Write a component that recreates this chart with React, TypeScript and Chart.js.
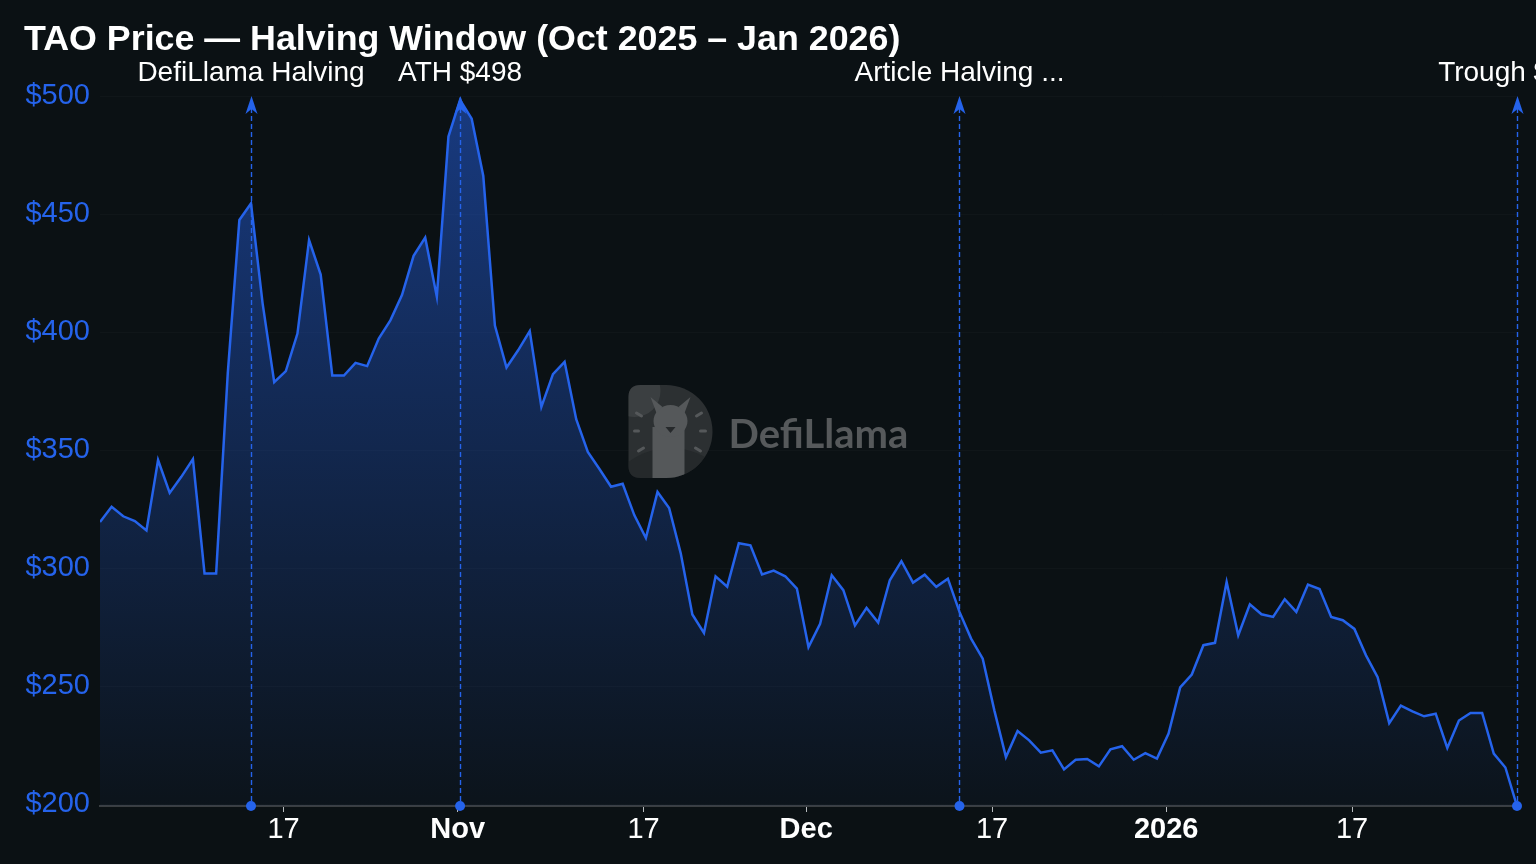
import React, { useEffect, useRef } from "react";
import { Chart, registerables } from "chart.js";

Chart.register(...registerables);

// ---- data (day index 0 = 2025-10-01, daily closes through 2026-01-31) ----
const PRICES: number[] = [
  319.6, 326.0, 322.0, 320.0, 316.0, 345.8, 331.9, 338.7, 346.2, 297.8,
  297.8, 382.5, 447.5, 454.5, 412.2, 378.8, 383.5, 399.4, 439.0, 424.4,
  381.6, 381.6, 387.0, 385.6, 397.3, 405.0, 415.7, 432.3, 440.0, 415.0,
  482.8, 498.3, 490.4, 466.1, 402.8, 385.0, 392.3, 400.4, 368.3, 382.2,
  387.4, 363.1, 349.3, 342.0, 334.5, 335.8, 322.5, 312.8, 332.3, 325.5,
  306.3, 280.4, 272.6, 296.6, 292.2, 310.6, 309.7, 297.4, 299.0, 296.6,
  291.4, 266.6, 276.5, 297.0, 290.7, 275.8, 283.2, 277.0, 294.9, 303.0,
  293.9, 297.3, 292.1, 295.6, 281.5, 270.2, 261.7, 239.8, 220.0, 231.1,
  227.1, 221.9, 222.9, 214.8, 218.9, 219.2, 216.1, 223.3, 224.6, 218.9,
  221.7, 219.4, 230.0, 249.5, 255.0, 267.4, 268.4, 294.2, 271.6, 284.7,
  280.5, 279.4, 286.9, 281.5, 293.1, 291.2, 279.4, 278.0, 274.3, 263.1,
  253.9, 234.4, 241.8, 239.4, 237.3, 238.4, 223.9, 235.5, 238.7, 238.7,
  221.5, 215.6, 199.3,
];

const TICK_DAYS: number[] = [16, 31, 47, 61, 77, 92, 108];
const TICK_LABELS: string[] = ["17", "Nov", "17", "Dec", "17", "2026", "17"];
const TICK_MAJOR: boolean[] = [false, true, false, true, false, true, false];
const TICK_SHIFT = -0.2; // timezone shift of day boundaries (days)
const Y_TICKS: number[] = [200, 250, 300, 350, 400, 450, 500];
const Y_MAX = 500;

const ANNOT_DAYS: number[] = [13, 31, 74, 122];
const ANNOT_LABELS: string[] = [
  "DefiLlama Halving",
  "ATH $498",
  "Article Halving ...",
  "Trough $199",
];

const TITLE = "TAO Price — Halving Window (Oct 2025 – Jan 2026)";

const BLUE = "#2563eb";
const BG = "#0b1114";
const FONT = '"Liberation Sans", Arial, sans-serif';

function drawWatermark(ctx: CanvasRenderingContext2D, left: number, top: number) {
  const h = 93;
  const w = 84;
  const r = h / 2;
  const cxD = left + w - r;
  const cyD = top + r;
  ctx.save();
  ctx.beginPath();
  ctx.moveTo(left + 12, top);
  ctx.lineTo(cxD, top);
  ctx.arc(cxD, cyD, r, -Math.PI / 2, Math.PI / 2);
  ctx.lineTo(left + 12, top + h);
  ctx.quadraticCurveTo(left, top + h, left, top + h - 12);
  ctx.lineTo(left, top + 12);
  ctx.quadraticCurveTo(left, top, left + 12, top);
  ctx.closePath();
  ctx.fillStyle = "rgba(48,51,53,0.92)";
  ctx.fill();
  ctx.clip();
  ctx.beginPath();
  ctx.arc(left + 6, top + 6, 26, 0, Math.PI * 2);
  ctx.fillStyle = "rgba(70,73,75,0.6)";
  ctx.fill();
  ctx.beginPath();
  ctx.arc(left + 42, top + h + 40, 70, 0, Math.PI * 2);
  ctx.fillStyle = "rgba(30,33,35,0.5)";
  ctx.fill();
  ctx.fillStyle = "#55585a";
  ctx.fillRect(left + 24, top + 42, 32, h - 42);
  ctx.beginPath();
  ctx.ellipse(left + 42, top + 36, 17, 16, 0, 0, Math.PI * 2);
  ctx.fill();
  ctx.beginPath();
  ctx.moveTo(left + 22, top + 12);
  ctx.lineTo(left + 34, top + 22);
  ctx.lineTo(left + 28, top + 28);
  ctx.closePath();
  ctx.fill();
  ctx.beginPath();
  ctx.moveTo(left + 62, top + 12);
  ctx.lineTo(left + 50, top + 22);
  ctx.lineTo(left + 56, top + 28);
  ctx.closePath();
  ctx.fill();
  ctx.fillStyle = "#26292b";
  ctx.beginPath();
  ctx.moveTo(left + 37, top + 42);
  ctx.lineTo(left + 47, top + 42);
  ctx.lineTo(left + 42, top + 48);
  ctx.closePath();
  ctx.fill();
  ctx.strokeStyle = "#55585a";
  ctx.lineWidth = 3;
  ctx.lineCap = "round";
  const rays: [number, number, number, number][] = [
    [8, 28, 13, 31], [6, 46, 10, 46], [10, 66, 15, 63],
    [68, 31, 73, 28], [72, 46, 77, 46], [67, 63, 72, 66],
  ];
  rays.forEach(([x1, y1, x2, y2]) => {
    ctx.beginPath();
    ctx.moveTo(left + x1, top + y1);
    ctx.lineTo(left + x2, top + y2);
    ctx.stroke();
  });
  ctx.restore();
  ctx.save();
  ctx.fillStyle = "#56595b";
  ctx.font = `bold 40px Lato, ${FONT}`;
  ctx.textAlign = "left";
  ctx.textBaseline = "middle";
  ctx.fillText("DefiLlama", left + 100, top + 50);
  ctx.restore();
}

const overlayPlugin = {
  id: "overlay",
  beforeDraw(chart: any) {
    const { ctx, width, height } = chart;
    ctx.save();
    ctx.fillStyle = BG;
    ctx.fillRect(0, 0, width, height);
    ctx.fillStyle = "#ffffff";
    ctx.font = `bold 35.8px ${FONT}`;
    ctx.textAlign = "left";
    ctx.textBaseline = "middle";
    ctx.fillText(TITLE, 24, 40);
    ctx.restore();
  },
  afterDatasetsDraw(chart: any) {
    const { ctx, chartArea, scales } = chart;
    const cx = (chartArea.left + chartArea.right) / 2;
    const cy = (chartArea.top + chartArea.bottom) / 2;
    drawWatermark(ctx, cx - 180, cy - 66);

    ANNOT_DAYS.forEach((d, i) => {
      const xr = scales.x.getPixelForValue(d);
      const x = Math.round(xr) + 0.5;
      ctx.save();
      ctx.strokeStyle = BLUE;
      ctx.fillStyle = BLUE;
      ctx.lineWidth = 1.4;
      ctx.setLineDash([5, 3]);
      ctx.beginPath();
      ctx.moveTo(x, chartArea.top + 12);
      ctx.lineTo(x, chartArea.bottom);
      ctx.stroke();
      ctx.setLineDash([]);
      ctx.beginPath();
      ctx.moveTo(x, chartArea.top);
      ctx.lineTo(x + 6, chartArea.top + 18);
      ctx.lineTo(x, chartArea.top + 13);
      ctx.lineTo(x - 6, chartArea.top + 18);
      ctx.closePath();
      ctx.fill();
      ctx.beginPath();
      ctx.arc(xr, chartArea.bottom, 5, 0, Math.PI * 2);
      ctx.fill();
      ctx.fillStyle = "#ffffff";
      ctx.font = `28px ${FONT}`;
      ctx.textAlign = "center";
      ctx.textBaseline = "middle";
      ctx.fillText(ANNOT_LABELS[i], xr, chartArea.top - 23);
      ctx.restore();
    });
  },
};

export default function App() {
  const canvasRef = useRef<HTMLCanvasElement | null>(null);

  useEffect(() => {
    if (!canvasRef.current) return;
    const data = PRICES.map((v, i) => ({ x: i, y: v }));
    const chart = new Chart(canvasRef.current, {
      type: "line",
      data: {
        datasets: [
          {
            label: "TAO",
            data,
            borderColor: BLUE,
            borderWidth: 2.5,
            pointRadius: 0,
            tension: 0,
            fill: "start",
            backgroundColor: (c: any) => {
              const ca = c.chart.chartArea;
              if (!ca) return "rgba(37,99,235,0.2)";
              const g = c.chart.ctx.createLinearGradient(0, ca.top, 0, ca.bottom);
              g.addColorStop(0, "rgba(37,99,235,0.5)");
              g.addColorStop(1, "rgba(37,99,235,0.03)");
              return g;
            },
          },
        ],
      },
      options: {
        animation: false,
        responsive: true,
        maintainAspectRatio: false,
        layout: { padding: { left: 24, right: 19, top: 96, bottom: 0 } },
        plugins: {
          legend: { display: false },
          tooltip: { enabled: false },
          title: { display: false },
        },
        scales: {
          x: {
            type: "linear",
            min: 0,
            max: PRICES.length - 1,
            afterBuildTicks: (scale: any) => {
              scale.ticks = TICK_DAYS.map((d) => ({ value: d + TICK_SHIFT }));
            },
            afterFit: (scale: any) => {
              scale.height = 58;
            },
            grid: {
              drawOnChartArea: false,
              drawTicks: true,
              tickLength: 6,
              color: "#b8bcbf",
            },
            border: { display: true, color: "#3a3e41", width: 2 },
            ticks: {
              autoSkip: false,
              maxRotation: 0,
              padding: 1,
              color: "#ffffff",
              font: (c: any) => ({
                family: FONT,
                size: 29,
                weight: TICK_MAJOR[c.index] ? "bold" : "normal",
              }),
              callback: (_v: any, i: number) => TICK_LABELS[i],
            },
          },
          y: {
            type: "linear",
            min: Math.min(...PRICES),
            max: Y_MAX,
            afterBuildTicks: (scale: any) => {
              scale.ticks = Y_TICKS.map((v) => ({ value: v }));
            },
            afterFit: (scale: any) => {
              scale.width = 76;
            },
            grid: {
              color: "rgba(255,255,255,0.022)",
              drawTicks: false,
            },
            border: { display: false },
            ticks: {
              padding: 10,
              color: BLUE,
              font: { family: FONT, size: 29 },
              callback: (v: any) => "$" + v,
            },
          },
        },
      },
      plugins: [overlayPlugin],
    });
    return () => chart.destroy();
  }, []);

  return (
    <div
      style={{
        position: "fixed",
        left: 0,
        top: 0,
        width: "100vw",
        height: "100vh",
        background: BG,
      }}
    >
      <canvas ref={canvasRef} />
    </div>
  );
}
